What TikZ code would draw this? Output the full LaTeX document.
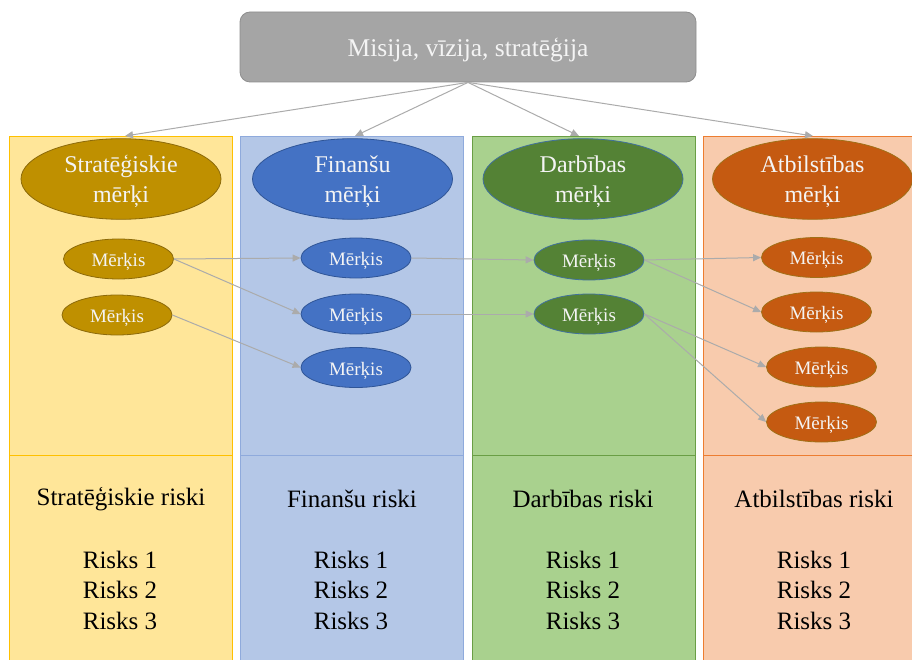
\documentclass[tikz,border=0pt]{standalone}
\usepackage{fontspec}
\setmainfont{Liberation Serif}
\usetikzlibrary{arrows.meta,shapes.geometric}

\definecolor{topfill}{HTML}{A5A5A5}
\definecolor{topline}{HTML}{8E8E8E}
\definecolor{arrowgray}{HTML}{ABABAB}
\definecolor{goldbg}{HTML}{FFE699}
\definecolor{goldline}{HTML}{FFC000}
\definecolor{goldell}{HTML}{BF9000}
\definecolor{goldellline}{HTML}{8C6A0A}
\definecolor{bluebg}{HTML}{B4C7E7}
\definecolor{blueline}{HTML}{8FAADC}
\definecolor{blueell}{HTML}{4472C4}
\definecolor{blueellline}{HTML}{2F5597}
\definecolor{greenbg}{HTML}{A9D18E}
\definecolor{greenline}{HTML}{6A9E45}
\definecolor{greenell}{HTML}{548235}
\definecolor{greenellline}{HTML}{41719C}
\definecolor{orangebg}{HTML}{F8CBAD}
\definecolor{orangeline}{HTML}{ED7D31}
\definecolor{orangeell}{HTML}{C55A11}
\definecolor{orangeellline}{HTML}{A07018}
\definecolor{elltext}{HTML}{F4F4F4}

\begin{document}
\begin{tikzpicture}[x=1pt,y=-1pt,
  colbox/.style={draw=#1, line width=1pt, inner sep=0pt, anchor=north west,
    minimum width=223pt, minimum height=560pt},
  bigell/.style={ellipse, inner sep=0pt, line width=0.8pt, align=center,
    minimum width=200pt, minimum height=69pt, text=elltext,
    text height=52pt, text depth=5pt,
    font=\fontsize{24}{30}\selectfont},
  goalell/.style={ellipse, inner sep=0pt, line width=0.8pt,
    minimum width=110pt, minimum height=40pt, text=elltext,
    text height=19pt, text depth=4pt,
    font=\fontsize{19}{22}\selectfont},
  goldstyle/.style={fill=goldell, draw=goldellline},
  bluestyle/.style={fill=blueell, draw=blueellline},
  greenstyle/.style={fill=greenell, draw=greenellline},
  orangestyle/.style={fill=orangeell, draw=orangeellline},
  flow/.style={draw=arrowgray, line width=1pt,
    -{Triangle[length=8pt,width=7pt,fill=arrowgray]}},
  risktitle/.style={font=\fontsize{25}{30.5}\selectfont, text=black},
  risklist/.style={font=\fontsize{25}{30.5}\selectfont, text=black, align=center}
]
\useasboundingbox (0,0) rectangle (912,660);
\clip (0,0) rectangle (912,660);

% columns
\node[colbox=goldline, fill=goldbg] (c1) at (9,136) {};
\node[colbox=blueline, fill=bluebg] (c2) at (240,136) {};
\node[colbox=greenline, fill=greenbg] (c3) at (472,136) {};
\node[colbox=orangeline, fill=orangebg] (c4) at (703,136) {};

% dividers between goals and risks
\draw[goldline, line width=1pt] (9,455) -- (232,455);
\draw[blueline, line width=1pt] (240,455) -- (463,455);
\draw[greenline, line width=1pt] (472,455) -- (695,455);
\draw[orangeline, line width=1pt] (703,455) -- (926,455);

% mission box
\node[draw=topline, fill=topfill, rounded corners=10pt, line width=0.8pt,
  minimum width=456pt, minimum height=70pt, inner sep=0pt, text=elltext,
  text height=26pt, text depth=6pt,
  font=\fontsize{25.5}{30}\selectfont] (top) at (468,47) {Misija, vīzija, stratēģija};

\draw[flow] (top.south) -- ([xshift=4pt]c1.north);
\draw[flow] (top.south) -- ([xshift=3pt]c2.north);
\draw[flow] (top.south) -- ([xshift=-5pt]c3.north);
\draw[flow] (top.south) -- ([xshift=-2pt]c4.north);

% category ellipses
\node[bigell, goldstyle] (sg) at (121,179) {Stratēģiskie\\mērķi};
\node[bigell, bluestyle] (fg) at (352.5,179) {Finanšu\\mērķi};
\node[bigell, greenstyle] (dg) at (583,179) {Darbības\\mērķi};
\node[bigell, orangestyle] (ag) at (812.5,179) {Atbilstības\\mērķi};

% goal ellipses
\node[goalell, goldstyle] (s1) at (118.5,259) {Mērķis};
\node[goalell, goldstyle] (s2) at (117,315) {Mērķis};
\node[goalell, bluestyle] (f1) at (356,258) {Mērķis};
\node[goalell, bluestyle] (f2) at (356,314) {Mērķis};
\node[goalell, bluestyle] (f3) at (356,367.5) {Mērķis};
\node[goalell, greenstyle] (d1) at (589,260) {Mērķis};
\node[goalell, greenstyle] (d2) at (589,314) {Mērķis};
\node[goalell, orangestyle] (a1) at (816.5,257.5) {Mērķis};
\node[goalell, orangestyle] (a2) at (816.5,312) {Mērķis};
\node[goalell, orangestyle] (a3) at (821.5,367) {Mērķis};
\node[goalell, orangestyle] (a4) at (821.5,422) {Mērķis};

% links between goals
\draw[flow] (s1.east) -- (f1.west);
\draw[flow] (s1.east) -- (f2.west);
\draw[flow] (s2.east) -- (f3.west);
\draw[flow] (f1.east) -- (d1.west);
\draw[flow] (f2.east) -- (d2.west);
\draw[flow] (d1.east) -- (a1.west);
\draw[flow] (d1.east) -- (a2.west);
\draw[flow] (d2.east) -- (a3.west);
\draw[flow] (d2.east) -- (a4.west);

% risk texts
\node[risktitle] (sr) at (121,499) {Stratēģiskie riski};
\node[risktitle] (fr) at (352,499) {Finanšu riski};
\node[risktitle] (dr) at (583,499) {Darbības riski};
\node[risktitle] (ar) at (814,499) {Atbilstības riski};
\node[risklist] (sl) at (120,590) {Risks 1\\Risks 2\\Risks 3};
\node[risklist] (fl) at (351,590) {Risks 1\\Risks 2\\Risks 3};
\node[risklist] (dl) at (583,590) {Risks 1\\Risks 2\\Risks 3};
\node[risklist] (al) at (814,590) {Risks 1\\Risks 2\\Risks 3};
\end{tikzpicture}
\end{document}
